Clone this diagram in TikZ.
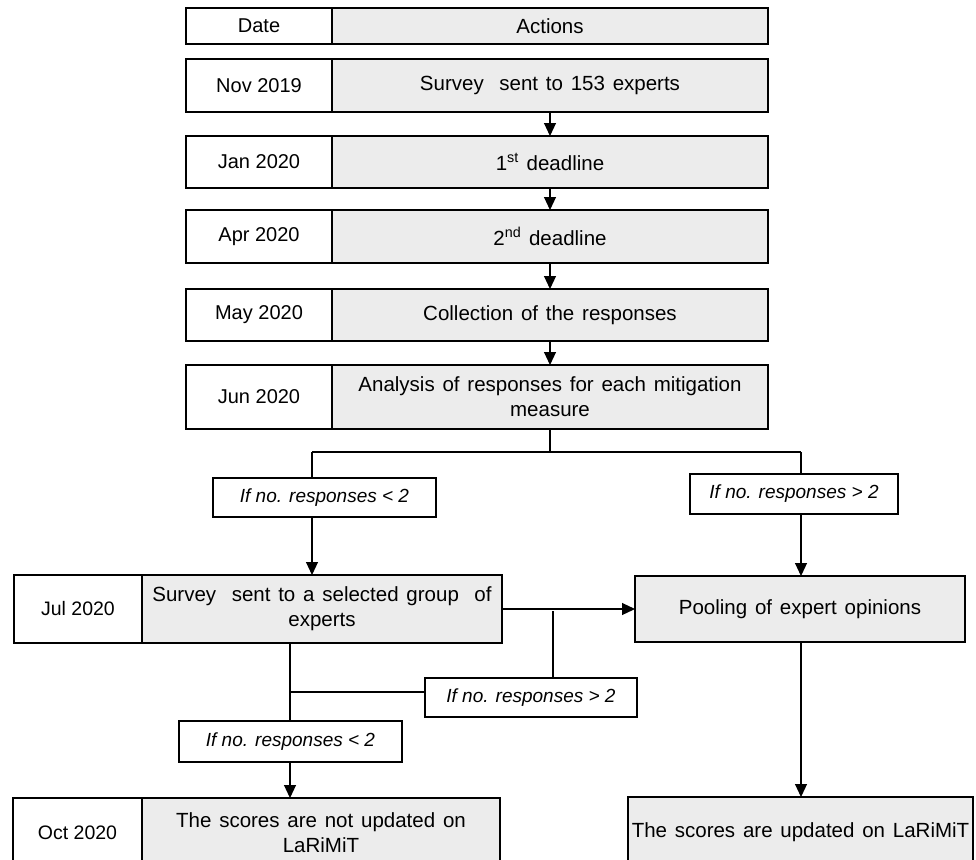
\documentclass[tikz,border=0pt]{standalone}
\usepackage{fontspec}
\setmainfont{Liberation Sans}
\usetikzlibrary{arrows.meta}
\definecolor{cellgray}{HTML}{ECECEC}
\newcommand{\myactfont}{\fontsize{20.5}{25}\selectfont\spaceskip=0.38em plus 0.1em minus 0.05em\relax}
\tikzset{
  cell/.style={draw=black, line width=1.3pt, inner sep=0pt, outer sep=0pt, align=center},
  datecell/.style={cell, fill=white, font=\fontsize{20}{25}\selectfont},
  lowdate/.style={datecell, font=\fontsize{19.5}{25}\selectfont},
  actcell/.style={cell, fill=cellgray, font=\myactfont},
  condbox/.style={cell, fill=white, font=\fontsize{19}{24}\selectfont\itshape},
  ln/.style={draw=black, line width=1.1pt},
  arr/.style={ln, -{Triangle[length=13pt,width=12pt]}},
}
\begin{document}
\begin{tikzpicture}[x=1pt,y=1pt]
\useasboundingbox (0,0) rectangle (976,-859);
\clip (0,0) rectangle (976,-859);
% top table rows
\node[datecell, minimum width=146, minimum height=36] (d0) at (259,-26) {Date};
\node[actcell, minimum width=436, minimum height=36] (a0) at (550,-26) {Actions};
\node[datecell, minimum width=146, minimum height=53] (d1) at (259,-85.5) {Nov 2019};
\node[actcell, minimum width=436, minimum height=53] (a1) at (550,-85.5) {Survey\ \ sent to 153 experts};
\node[datecell, minimum width=146, minimum height=52] (d2) at (259,-162) {Jan 2020};
\node[actcell, minimum width=436, minimum height=52] (a2) at (550,-162) {1\textsuperscript{st} deadline};
\node[datecell, minimum width=146, minimum height=53] (d3) at (259,-236.5) {Apr 2020};
\node[actcell, minimum width=436, minimum height=53] (a3) at (550,-236.5) {2\textsuperscript{nd} deadline};
\node[datecell, minimum width=146, minimum height=52] (d4) at (259,-315) {May 2020};
\node[actcell, minimum width=436, minimum height=52] (a4) at (550,-315) {Collection of the responses};
\node[datecell, minimum width=146, minimum height=64] (d5) at (259,-397) {Jun 2020};
\node[actcell, minimum width=436, minimum height=64] (a5) at (550,-397) {Analysis of responses for each mitigation\\measure};
% arrows between rows
\draw[arr] (a1.south) -- (a2.north);
\draw[arr] (a2.south) -- (a3.north);
\draw[arr] (a3.south) -- (a4.north);
\draw[arr] (a4.south) -- (a5.north);
% condition boxes
\node[condbox, minimum width=223, minimum height=39] (L1) at (324.5,-497.5) {If no. responses < 2};
\node[condbox, minimum width=208, minimum height=40] (R1) at (794,-494) {If no. responses > 2};
% July row and pooling
\node[lowdate, minimum width=128, minimum height=68] (d6) at (78,-609) {Jul 2020};
\node[actcell, minimum width=360, minimum height=68] (a6) at (322,-609) {Survey\ \ sent to a selected group\ \ of\\experts};
\node[actcell, minimum width=330, minimum height=66] (pool) at (800,-609) {Pooling of expert opinions};
% second conditions
\node[condbox, minimum width=212, minimum height=39] (M) at (531,-697.5) {If no. responses > 2};
\node[condbox, minimum width=223, minimum height=41] (LL) at (290.5,-741.5) {If no. responses < 2};
% final rows
\node[lowdate, minimum width=129, minimum height=70] (d7) at (77.5,-833) {Oct 2020};
\node[actcell, minimum width=358, minimum height=70] (a7) at (321,-833) {The scores are not updated on\\LaRiMiT};
\node[actcell, minimum width=345, minimum height=71] (fin) at (800.5,-832.5) {The scores are updated on LaRiMiT};
% branching coordinates
\coordinate (bl) at (312,-452);
\coordinate (br) at (801,-452);
\coordinate (mv) at (553,-611);
\coordinate (hj) at (290,-692);
% branch from Jun row
\draw[ln] (a5.south) -- (a5.south |- bl);
\draw[ln] (bl) -- (br);
\draw[ln] (bl) -- (bl |- L1.north);
\draw[ln] (br) -- (br |- R1.north);
\draw[arr] (bl |- L1.south) -- (bl |- a6.north);
\draw[arr] (br |- R1.south) -- (br |- pool.north);
% July to pooling
\draw[arr] (a6.east) -- (pool.west);
\draw[ln] (mv) -- (mv |- M.north);
\draw[ln] (hj) -- (hj -| M.west);
\draw[ln] (hj |- a6.south) -- (hj |- LL.north);
\draw[arr] (hj |- LL.south) -- (hj |- a7.north);
\draw[arr] (br |- pool.south) -- (br |- fin.north);
\end{tikzpicture}
\end{document}
